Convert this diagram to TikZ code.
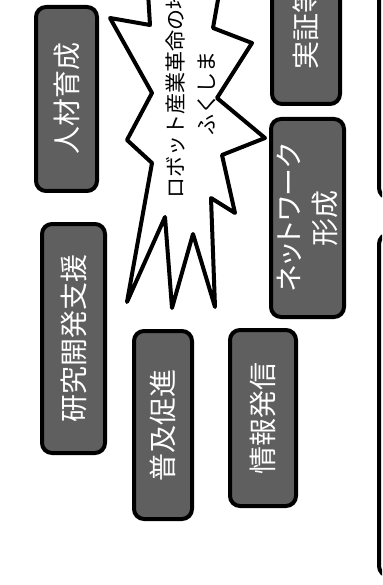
\documentclass[tikz,border=0pt]{standalone}
\usepackage{fontspec}
\newfontfamily\jp{Noto Sans CJK JP}
\newfontfamily\jpp[RawFeature=+palt]{Noto Sans CJK JP}
\definecolor{boxgray}{RGB}{95,95,95}
\begin{document}
\begin{tikzpicture}[x=1pt,y=-1pt,
  darkbox/.style={draw=black, line width=4pt, fill=boxgray, rounded corners=10pt, rotate=90,
    text=white, font=\jp\fontsize{28}{36}\selectfont, inner sep=0pt, align=center},
  framebox/.style={draw=black, line width=4pt, fill=white, rounded corners=10pt},
  burst/.style={draw=black, line width=4pt, fill=white, line join=round},
  slogantext/.style={font=\jp\fontsize{21}{31}\selectfont, rotate=90, align=center, inner sep=0pt}]
\useasboundingbox (0,0) rectangle (382,585);
\clip (0,0) rectangle (382,585);
% explosion
\draw[burst] (146,-40) -- (150,25) -- (110,18) -- (152,93) -- (127,140) -- (152,163)
  -- (127,302) -- (165,217) -- (172,308) -- (193,234) -- (215,307) -- (211,198)
  -- (235,213) -- (222,155) -- (265,138) -- (217,98) -- (252,43) -- (213,28)
  -- (225,-40) -- (185,-60) -- cycle;
\node[slogantext] (slogan) at (190.5,94) {ロボット産業革命の地\\ふくしま};
% dark boxes
\node[darkbox, minimum width=184pt, minimum height=61pt] (jinzai) at (66.5,99) {人材育成};
\node[darkbox, minimum width=229pt, minimum height=63pt] (kenkyu) at (73.5,338.5) {研究開発支援};
\node[darkbox, minimum width=188pt, minimum height=58pt] (fukyu) at (163,425) {普及促進};
\node[darkbox, minimum width=176pt, minimum height=66pt] (joho) at (263,418) {情報発信};
\node[darkbox, minimum width=198pt, minimum height=73pt] (network) at (307.5,218) {{\jpp ネットワーク}\\形成};
\node[darkbox, minimum width=152pt, minimum height=68pt] (jissho) at (306,28) {実証等};
% right frames
\node[framebox, minimum width=80pt, minimum height=256pt] (panelA) at (419,70) {};
\node[framebox, minimum width=80pt, minimum height=342pt] (panelB) at (419,405) {};
\end{tikzpicture}
\end{document}
